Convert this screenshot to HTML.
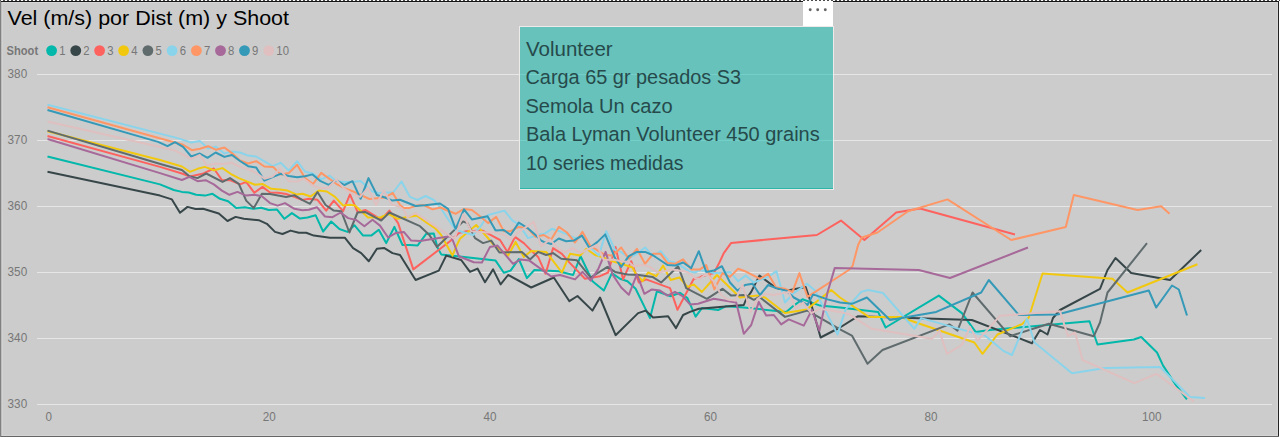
<!DOCTYPE html>
<html><head><meta charset="utf-8"><title>Vel (m/s) por Dist (m) y Shoot</title>
<style>
html,body{margin:0;padding:0;background:#fff;}
body{width:1280px;height:440px;overflow:hidden;position:relative;font-family:"Liberation Sans",sans-serif;}
svg{position:absolute;left:0;top:0;display:block;}
text{font-family:"Liberation Sans",sans-serif;}
.ax{font-size:12px;fill:#777;}
.lg{font-size:12px;fill:#777;}
.tb{font-size:20.5px;fill:#264a4b;}
</style></head><body>
<svg width="1280" height="440" viewBox="0 0 1280 440">
<defs>
<pattern id="dots" x="1" y="0" width="4" height="1" patternUnits="userSpaceOnUse"><rect x="0" y="0" width="2" height="1" fill="#fff"/><rect x="2" y="0" width="2" height="1" fill="#4d4d4d"/></pattern>
</defs>
<rect x="0" y="0" width="1280" height="440" fill="#fff"/>
<rect x="0" y="0" width="1279" height="437" fill="#cccccc"/>
<!-- frame -->
<rect x="0" y="0" width="1280" height="1" fill="url(#dots)"/>
<rect x="0" y="0" width="1" height="1" fill="#555"/>
<rect x="1" y="1" width="1278" height="1" fill="#161616"/>
<rect x="1" y="2" width="1277" height="1" fill="#d6d6d6"/>
<rect x="0" y="1" width="1" height="436" fill="#808080"/>
<rect x="1" y="2" width="1" height="434" fill="#bdbdbd"/>
<rect x="2" y="3" width="1" height="433" fill="#d2d2d2"/>
<rect x="1278" y="1" width="1" height="436" fill="#222"/>
<rect x="1277" y="3" width="1" height="433" fill="#d4d4d4"/>
<rect x="1" y="436" width="1278" height="1" fill="#666"/>
<rect x="2" y="435" width="1276" height="1" fill="#d4d4d4"/>
<rect x="1279" y="1" width="1" height="439" fill="#fff"/>

<rect x="37" y="74" width="1235" height="1" fill="#e6e6e6"/>
<text class="ax" x="7.6" y="78" textLength="19.6" lengthAdjust="spacingAndGlyphs">380</text>
<rect x="37" y="140" width="1235" height="1" fill="#e6e6e6"/>
<text class="ax" x="7.6" y="144" textLength="19.6" lengthAdjust="spacingAndGlyphs">370</text>
<rect x="37" y="206" width="1235" height="1" fill="#e6e6e6"/>
<text class="ax" x="7.6" y="210" textLength="19.6" lengthAdjust="spacingAndGlyphs">360</text>
<rect x="37" y="272" width="1235" height="1" fill="#e6e6e6"/>
<text class="ax" x="7.6" y="276" textLength="19.6" lengthAdjust="spacingAndGlyphs">350</text>
<rect x="37" y="338" width="1235" height="1" fill="#e6e6e6"/>
<text class="ax" x="7.6" y="342" textLength="19.6" lengthAdjust="spacingAndGlyphs">340</text>
<rect x="37" y="404" width="1235" height="1" fill="#e6e6e6"/>
<text class="ax" x="7.6" y="408" textLength="19.6" lengthAdjust="spacingAndGlyphs">330</text>
<text class="ax" x="45.5" y="421" textLength="6.5" lengthAdjust="spacingAndGlyphs">0</text>
<text class="ax" x="262.8" y="421" textLength="13.0" lengthAdjust="spacingAndGlyphs">20</text>
<text class="ax" x="483.4" y="421" textLength="13.0" lengthAdjust="spacingAndGlyphs">40</text>
<text class="ax" x="704.0" y="421" textLength="13.0" lengthAdjust="spacingAndGlyphs">60</text>
<text class="ax" x="924.6" y="421" textLength="13.0" lengthAdjust="spacingAndGlyphs">80</text>
<text class="ax" x="1142.0" y="421" textLength="19.5" lengthAdjust="spacingAndGlyphs">100</text>
<text x="7.5" y="24.5" font-size="21px" fill="#000" textLength="281.5" lengthAdjust="spacingAndGlyphs">Vel (m/s) por Dist (m) y Shoot</text>
<text class="lg" x="6.6" y="55" font-weight="bold" textLength="31.5" lengthAdjust="spacingAndGlyphs">Shoot</text>
<circle cx="51.6" cy="50.6" r="5.4" fill="#01B8AA"/>
<text class="lg" x="59.2" y="55" textLength="6.3" lengthAdjust="spacingAndGlyphs">1</text>
<circle cx="75.75" cy="50.6" r="5.4" fill="#374649"/>
<text class="lg" x="83.35" y="55" textLength="6.3" lengthAdjust="spacingAndGlyphs">2</text>
<circle cx="99.6" cy="50.6" r="5.4" fill="#FD625E"/>
<text class="lg" x="107.19999999999999" y="55" textLength="6.3" lengthAdjust="spacingAndGlyphs">3</text>
<circle cx="123.6" cy="50.6" r="5.4" fill="#F2C80F"/>
<text class="lg" x="131.2" y="55" textLength="6.3" lengthAdjust="spacingAndGlyphs">4</text>
<circle cx="147.9" cy="50.6" r="5.4" fill="#5F6B6D"/>
<text class="lg" x="155.5" y="55" textLength="6.3" lengthAdjust="spacingAndGlyphs">5</text>
<circle cx="172.1" cy="50.6" r="5.4" fill="#8AD4EB"/>
<text class="lg" x="179.7" y="55" textLength="6.3" lengthAdjust="spacingAndGlyphs">6</text>
<circle cx="196.4" cy="50.6" r="5.4" fill="#FE9666"/>
<text class="lg" x="204.0" y="55" textLength="6.3" lengthAdjust="spacingAndGlyphs">7</text>
<circle cx="220.5" cy="50.6" r="5.4" fill="#A66999"/>
<text class="lg" x="228.1" y="55" textLength="6.3" lengthAdjust="spacingAndGlyphs">8</text>
<circle cx="244.5" cy="50.6" r="5.4" fill="#3599B8"/>
<text class="lg" x="252.1" y="55" textLength="6.3" lengthAdjust="spacingAndGlyphs">9</text>
<circle cx="268.75" cy="50.6" r="5.4" fill="#DFBFBF"/>
<text class="lg" x="276.35" y="55" textLength="12.6" lengthAdjust="spacingAndGlyphs">10</text>
<g fill="none" stroke-width="2" stroke-linejoin="round" stroke-linecap="butt">
<polyline stroke="#01B8AA" points="47.5,156.5 160.0,184.4 173.8,190.0 181.9,191.9 188.8,192.5 196.2,194.8 205.0,195.6 212.5,193.8 220.0,198.8 228.1,201.2 236.2,208.1 245.0,207.2 253.1,208.8 261.2,207.8 268.8,210.0 276.9,209.4 284.4,218.8 291.9,213.1 300.0,218.6 307.5,217.5 315.6,215.2 323.1,231.5 331.2,221.5 339.4,229.0 347.5,231.9 354.4,225.2 363.1,235.6 371.2,235.6 378.8,229.8 386.2,243.1 394.4,226.9 402.5,245.0 410.0,245.0 417.5,245.6 426.2,233.8 433.8,233.5 437.5,247.5 441.2,254.4 495.6,260.6 503.8,272.8 510.6,270.6 518.8,259.0 526.9,278.1 534.4,270.0 558.8,271.2 573.1,275.0 580.6,256.2 592.5,281.2 603.8,290.6 611.9,273.1 620.0,278.8 627.5,281.2 635.6,288.8 650.0,318.1 656.9,291.2 670.6,296.2 680.0,292.8 687.5,298.1 695.6,316.6 701.9,308.1 718.1,310.0 726.2,306.2 743.8,307.5 786.2,311.9 793.8,305.6 802.5,299.2 820.0,305.6 840.0,307.5 878.1,311.9 885.6,327.5 938.8,295.6 961.9,313.1 975.6,331.9 990.0,330.0 1089.5,321.2 1097.5,344.5 1133.8,339.5 1141.2,337.0 1157.0,352.5 1163.1,365.6 1175.0,383.8 1186.9,399.4"/>
<polyline stroke="#374649" points="47.5,171.7 160.0,195.6 171.9,199.4 180.0,212.8 187.5,206.9 195.6,209.0 203.1,208.8 218.8,213.5 227.5,221.0 235.6,216.9 243.8,218.8 258.8,220.2 266.9,223.8 275.0,231.9 282.5,234.0 290.6,230.6 298.8,232.8 306.2,232.8 313.8,235.6 330.0,237.8 345.0,237.8 353.1,248.1 361.2,253.1 368.8,261.2 376.9,248.8 384.4,248.1 392.5,253.1 400.0,255.0 415.6,280.0 438.8,270.6 446.2,255.6 461.2,260.0 470.0,271.9 477.5,268.6 485.0,282.2 493.1,269.4 500.6,284.4 508.1,275.0 531.2,287.5 553.8,277.5 569.4,301.2 577.5,296.0 592.5,310.6 600.0,297.5 615.6,335.2 638.1,313.1 645.6,310.6 653.1,317.5 668.1,316.2 676.0,328.1 683.1,315.0 690.0,311.9 698.8,308.8 743.8,305.0 746.2,299.0 751.2,291.9 759.4,275.6 776.2,288.1 787.5,290.6 805.6,286.9 810.0,300.0 820.6,337.5 840.0,327.5 858.1,316.2 971.9,320.0 1032.0,343.2 1040.0,330.0 1047.5,334.5 1053.0,318.0 1060.0,310.0 1100.0,288.8 1107.5,270.0 1115.5,258.0 1131.2,273.0 1170.0,280.0 1201.2,250.0"/>
<polyline stroke="#FD625E" points="47.5,136.0 160.0,166.9 181.9,173.5 190.0,176.5 202.5,173.8 213.8,168.5 221.9,180.0 230.0,180.2 240.0,184.4 246.2,181.9 254.4,192.8 262.5,186.9 270.0,192.5 278.1,192.8 286.2,194.0 294.4,196.9 302.5,200.0 308.8,198.8 317.5,199.8 326.2,210.6 333.8,200.6 343.1,211.2 350.0,194.4 357.5,211.9 365.6,210.0 381.2,219.5 389.4,210.6 398.1,223.1 413.3,269.4 450.0,241.2 458.8,233.1 466.2,231.2 482.5,230.6 491.9,235.6 500.0,240.0 507.5,252.0 515.0,236.9 523.8,243.1 530.0,249.4 538.1,256.9 545.6,273.8 553.1,248.1 561.9,253.8 568.8,261.9 585.0,278.8 600.0,276.2 608.1,272.5 615.5,247.0 623.1,279.4 631.2,261.2 638.8,282.5 646.2,279.4 670.0,288.1 677.5,309.8 693.8,278.8 700.0,277.5 701.9,276.2 713.8,273.1 718.8,263.8 723.8,253.1 731.2,242.9 816.9,235.0 841.0,220.6 864.4,240.0 896.2,212.5 920.0,208.5 1015.0,234.5"/>
<polyline stroke="#F2C80F" points="47.5,131.2 160.0,160.0 181.9,166.5 190.0,171.9 197.5,168.8 205.0,166.9 213.8,170.2 222.5,168.1 230.6,173.8 238.8,178.1 246.2,181.2 255.0,184.8 262.5,184.0 271.2,188.8 280.0,189.4 287.5,190.6 296.2,194.4 302.5,193.8 310.6,196.5 318.8,190.6 326.9,191.5 335.0,196.9 343.1,205.6 350.0,204.8 355.0,205.6 368.1,217.5 380.6,217.2 388.8,214.0 397.5,218.8 406.2,217.2 416.9,215.6 427.5,223.1 435.0,228.1 441.2,235.0 449.4,250.0 452.5,255.6 456.9,245.0 460.0,238.8 465.0,234.4 476.2,225.0 487.5,237.5 493.8,245.0 508.1,255.6 515.6,241.9 523.8,256.9 531.2,251.0 546.2,251.9 561.9,272.5 570.0,253.8 580.0,255.6 586.2,248.8 595.0,255.0 605.0,258.1 612.5,261.2 621.2,263.8 632.5,267.5 635.0,272.5 642.5,281.2 648.1,272.5 656.2,276.2 663.1,265.6 670.6,280.0 679.4,277.5 687.5,286.9 693.8,284.4 701.9,291.9 716.9,275.0 740.0,297.5 757.5,295.6 765.0,297.5 785.0,313.1 806.9,309.4 831.2,290.0 840.0,297.5 868.8,316.9 900.0,316.9 912.5,321.2 974.4,342.5 982.5,353.8 997.5,334.5 1022.5,323.8 1028.8,317.5 1042.5,273.5 1112.5,278.8 1127.5,292.5 1197.5,264.2"/>
<polyline stroke="#5F6B6D" points="47.5,130.6 163.8,165.0 181.9,170.0 189.4,176.2 197.5,178.1 206.2,173.5 222.5,181.9 230.0,178.1 238.8,183.8 246.2,200.6 253.8,208.1 261.9,193.8 270.0,194.0 286.2,196.9 294.4,195.2 302.5,200.2 310.0,203.8 317.5,192.0 325.6,205.0 333.8,210.6 341.2,211.2 349.4,232.5 357.5,212.5 365.0,211.9 381.2,220.6 389.4,212.5 420.0,226.2 429.4,235.0 436.9,246.9 446.2,238.1 455.0,229.4 463.1,221.5 467.5,223.1 475.0,238.1 483.1,243.1 491.2,240.6 499.4,252.5 521.9,251.9 530.0,259.4 538.1,251.9 546.2,255.0 553.1,253.1 561.2,258.8 576.9,260.3 590.6,277.5 607.5,266.9 615.0,271.9 627.5,274.4 638.8,275.0 652.5,276.9 661.2,282.5 678.1,266.2 686.2,288.1 706.9,298.8 722.5,288.8 731.2,295.6 745.0,295.0 753.8,299.8 759.4,296.9 785.0,316.9 807.5,310.6 840.0,329.4 851.9,335.6 867.5,363.8 882.5,350.0 949.4,324.4 957.5,330.6 972.5,292.5 1010.0,336.2 1048.8,323.8 1093.8,336.2 1100.0,322.5 1107.5,292.5 1147.0,243.2"/>
<polyline stroke="#8AD4EB" points="47.5,104.8 177.5,138.1 191.2,142.5 199.8,141.0 208.1,148.5 215.6,146.6 224.4,153.5 231.9,151.5 240.0,152.5 248.1,155.6 256.2,156.5 272.5,166.2 280.6,162.8 288.8,170.6 297.1,161.2 305.0,171.5 313.1,173.8 321.2,179.4 329.4,175.6 336.2,181.2 344.4,181.9 352.5,181.9 360.6,181.0 371.9,191.2 379.4,193.1 386.2,192.5 393.1,192.5 401.5,181.5 410.0,196.9 417.5,200.0 425.6,196.0 433.8,200.0 438.8,205.6 441.9,210.0 450.0,222.0 456.0,230.0 460.0,231.2 473.1,235.0 480.0,227.2 488.1,215.0 504.4,210.6 512.5,220.6 518.8,224.4 528.1,238.1 540.0,234.4 544.4,233.8 551.9,228.8 559.4,231.2 566.9,234.4 575.0,238.1 582.5,236.0 590.0,246.9 598.8,255.6 606.2,231.2 615.0,250.0 621.2,251.9 628.8,258.1 636.9,253.8 645.0,247.5 653.1,256.2 660.6,251.2 668.8,261.2 675.0,262.5 680.6,265.6 688.8,271.2 695.0,272.5 700.0,270.0 713.8,273.1 721.9,273.1 730.0,271.9 738.1,281.2 745.6,275.6 753.8,282.5 768.1,276.9 776.5,271.2 785.0,302.5 793.8,293.1 806.9,283.8 815.0,290.5 837.5,334.4 845.6,309.4 861.2,291.9 868.1,290.0 883.1,293.1 914.4,328.8 921.2,318.1 970.0,331.9 985.0,335.6 1003.8,351.2 1012.0,355.0 1027.0,318.8 1034.5,342.5 1072.0,373.2 1105.0,368.1 1160.0,366.9 1190.0,396.9 1205.0,398.1"/>
<polyline stroke="#FE9666" points="47.5,107.2 183.1,144.8 191.9,150.2 200.0,148.8 208.1,146.2 216.2,149.8 224.4,147.5 231.9,153.1 240.0,160.5 248.1,163.5 256.2,161.2 264.4,166.5 273.1,166.9 280.6,174.4 288.8,173.1 297.1,164.8 305.0,178.1 313.1,184.0 321.2,172.9 336.2,183.8 344.4,188.1 352.5,191.2 369.4,199.0 385.0,197.5 392.8,192.9 400.0,205.0 403.8,208.1 408.8,208.1 416.9,205.6 423.8,205.0 432.5,209.4 440.6,207.5 446.2,210.0 455.6,213.8 463.8,209.0 471.9,210.0 480.0,216.2 488.1,223.1 496.2,216.9 503.8,231.2 510.6,231.2 518.8,226.9 527.5,228.1 535.6,236.9 543.8,235.0 551.2,239.4 558.8,226.9 566.9,232.5 575.0,242.5 582.5,231.9 590.0,245.6 598.8,251.2 605.0,255.0 612.5,255.6 621.2,247.5 628.8,258.8 636.9,248.8 645.0,263.8 653.1,253.8 660.6,253.8 667.5,263.1 675.0,263.8 683.1,259.4 691.2,269.4 700.0,269.4 706.2,265.0 714.4,289.4 722.5,273.1 730.0,276.9 738.1,268.8 745.0,271.2 760.0,278.8 768.1,273.8 776.2,287.5 785.0,288.8 792.5,291.9 799.4,273.1 807.5,296.9 848.8,270.0 852.5,266.2 858.1,245.0 861.9,237.5 877.5,232.5 908.1,211.2 947.5,199.4 1011.2,240.0 1065.8,227.0 1073.8,195.0 1137.5,210.0 1161.2,206.2 1169.5,213.8"/>
<polyline stroke="#A66999" points="47.5,139.0 160.0,173.1 181.9,180.0 189.4,176.9 197.5,181.2 205.6,180.2 213.8,184.4 221.9,190.6 229.4,194.8 237.5,191.9 246.2,195.6 254.4,194.8 261.9,196.2 270.0,203.1 277.5,205.6 285.0,203.1 294.4,208.8 302.5,210.3 308.8,209.8 316.9,207.2 325.0,216.5 332.5,217.2 340.6,212.5 348.1,218.1 356.2,220.0 364.4,226.2 372.5,219.8 380.0,225.6 388.1,237.5 395.6,233.1 403.8,231.9 411.2,240.6 420.0,241.0 445.0,236.9 451.2,236.2 458.8,256.2 473.8,262.2 481.9,262.5 490.0,246.9 497.5,245.6 513.1,263.8 520.6,259.4 529.4,260.6 551.2,276.5 560.0,275.0 575.0,279.4 582.5,271.9 590.6,280.6 598.1,269.4 605.6,251.9 612.5,274.4 621.2,287.5 628.8,294.8 636.9,274.4 644.4,293.8 651.9,289.4 660.0,290.6 667.5,295.6 675.0,291.9 682.5,296.2 690.0,304.4 698.1,303.8 713.8,298.8 736.2,302.5 743.8,333.8 751.2,325.0 758.8,301.9 766.2,315.6 773.8,315.0 781.2,324.4 788.8,319.4 803.8,325.6 811.9,310.0 819.4,330.6 827.5,292.5 834.7,268.1 918.8,270.0 950.0,278.0 1028.0,247.5"/>
<polyline stroke="#3599B8" points="47.5,110.0 158.1,141.9 167.5,146.2 175.0,142.2 183.1,146.9 191.2,156.5 199.8,153.5 207.5,157.8 215.6,152.5 224.4,156.9 231.9,155.0 240.0,161.0 248.1,166.2 256.2,167.5 264.4,180.6 272.5,177.2 280.6,173.8 288.8,176.0 297.1,177.2 305.0,176.2 312.5,174.4 320.6,181.2 328.8,184.8 336.2,180.0 344.4,185.0 352.5,181.2 360.6,198.8 368.5,178.1 376.9,195.0 385.0,197.5 392.5,200.6 400.0,199.8 415.6,206.0 425.0,205.2 440.0,203.5 448.1,208.8 455.6,228.8 464.0,209.4 471.9,219.4 487.5,216.2 495.6,230.6 503.8,230.0 510.6,235.0 518.8,222.5 527.5,228.1 535.6,235.0 541.2,240.6 543.8,241.9 551.2,244.0 558.8,238.5 566.2,241.2 573.8,240.6 581.9,235.6 589.4,248.1 597.5,241.9 605.2,234.4 615.0,258.1 621.2,266.9 628.8,256.2 636.9,251.9 645.0,251.9 652.5,255.0 667.5,265.0 675.0,265.6 683.1,262.5 691.2,268.1 698.8,251.2 706.2,271.9 713.8,270.6 721.9,266.2 730.0,282.5 737.5,290.6 745.0,285.0 752.5,283.8 760.0,295.0 768.1,285.0 776.2,288.1 786.2,290.6 793.8,297.5 807.5,305.0 813.1,294.4 827.5,299.4 840.0,302.5 851.9,303.8 866.9,297.5 890.0,320.0 936.2,311.9 981.2,292.5 988.8,280.0 1018.8,315.0 1057.5,314.5 1148.8,290.5 1156.2,307.5 1172.0,285.5 1178.8,289.5 1187.0,315.5"/>
<polyline stroke="#DFBFBF" points="47.5,121.6 160.0,146.9 175.0,150.6 191.2,158.8 199.8,155.0 206.9,165.6 215.6,163.5 223.8,164.0 231.2,162.5 240.0,166.9 248.1,169.4 256.2,172.8 264.4,178.8 272.5,176.5 280.0,168.8 288.8,181.2 297.1,181.5 303.8,178.8 313.1,185.6 320.0,188.1 328.1,187.8 336.2,179.4 344.4,188.8 352.5,193.8 360.0,196.9 368.1,187.8 376.0,205.0 383.8,190.6 391.9,204.4 400.0,206.9 403.8,210.0 407.5,217.2 415.6,213.1 454.4,238.8 463.1,214.4 471.2,231.2 487.5,232.5 495.0,232.5 503.8,235.0 510.6,239.4 518.8,231.9 533.8,221.9 541.2,246.2 550.0,239.4 556.9,247.5 565.0,252.5 572.5,247.8 580.0,253.1 596.9,245.0 603.8,260.0 612.5,259.4 621.2,261.2 628.8,261.9 633.8,266.2 642.5,265.0 650.0,266.9 657.5,272.5 665.0,271.2 672.5,269.4 687.5,271.9 695.0,278.1 700.0,278.8 706.2,273.8 713.8,281.2 721.2,295.0 727.5,299.4 735.0,300.6 742.5,285.0 750.6,311.9 757.5,298.8 765.0,293.8 773.8,295.0 788.8,291.9 795.6,308.1 803.1,302.5 811.2,313.1 820.0,308.8 840.0,311.9 849.4,314.4 871.9,328.8 931.9,338.8 939.4,330.6 946.9,353.8 961.9,345.0 970.0,326.9 977.5,340.6 1000.0,315.8 1060.0,311.2 1068.0,336.2 1075.0,332.5 1082.5,360.0 1134.4,383.1 1156.5,373.8 1193.8,401.5"/>
</g>
<rect x="803" y="1" width="30" height="25" fill="#fff"/>
<circle cx="810.2" cy="9.8" r="1.45" fill="#666"/>
<circle cx="817.7" cy="9.8" r="1.45" fill="#666"/>
<circle cx="825.3" cy="9.8" r="1.45" fill="#666"/>
<rect x="519.5" y="26.5" width="314" height="163" fill="none" stroke="#efeaea" stroke-width="1"/>
<rect x="520" y="27" width="313" height="162" fill="#01B8AA" fill-opacity="0.5"/>
<rect x="520" y="188" width="313" height="1" fill="#2db5a8"/>
<text class="tb" x="526" y="56.0" textLength="86.6" lengthAdjust="spacingAndGlyphs">Volunteer</text>
<text class="tb" x="525.5" y="84.4" textLength="215.6" lengthAdjust="spacingAndGlyphs">Carga 65 gr pesados S3</text>
<text class="tb" x="525.5" y="112.8" textLength="147.1" lengthAdjust="spacingAndGlyphs">Semola Un cazo</text>
<text class="tb" x="526" y="141.2" textLength="293.7" lengthAdjust="spacingAndGlyphs">Bala Lyman Volunteer 450 grains</text>
<text class="tb" x="526" y="169.6" textLength="157.4" lengthAdjust="spacingAndGlyphs">10 series medidas</text>
</svg></body></html>
